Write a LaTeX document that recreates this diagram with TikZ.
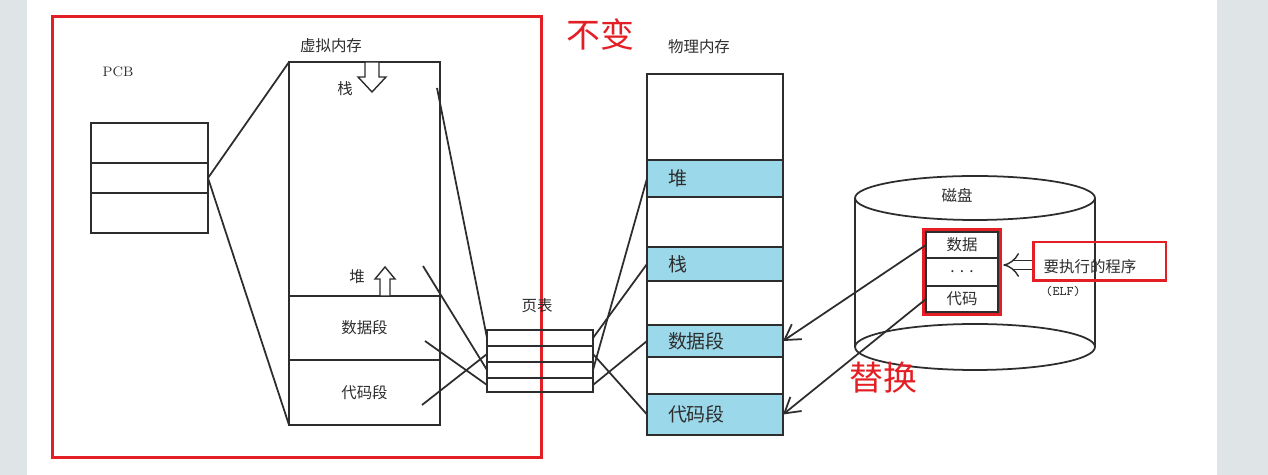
\documentclass[tikz,border=0pt]{standalone}
\usepackage{fontspec}
\newfontfamily\cjk{Noto Sans CJK SC}
\usepackage{tikz}
\usetikzlibrary{arrows.meta,positioning,fit}
\definecolor{memblue}{RGB}{155,216,233}
\definecolor{markred}{RGB}{227,30,36}
\definecolor{sidegray}{RGB}{223,229,230}
\definecolor{ink}{RGB}{45,45,45}

\begin{document}
\begin{tikzpicture}[
  x=0.02cm, y=-0.02cm,
  cell/.style={draw=ink, line width=1pt, inner sep=0pt, outer sep=0pt,
               text=ink, font=\cjk\fontsize{8.8}{10}\selectfont},
  band/.style={cell, fill=memblue, minimum width=2.72cm, inner xsep=0.42cm,
               text width=1.88cm, align=left, font=\cjk\fontsize{10.8}{12}\selectfont},
  title/.style={text=ink, font=\cjk\fontsize{8.8}{10}\selectfont},
  remark/.style={text=markred, font=\cjk\fontsize{19.3}{22}\selectfont},
  redbox/.style={draw=markred, line width=1.7pt, inner sep=0pt},
  link/.style={draw=ink, line width=1pt},
  hollow/.style={draw=ink, line width=0.8pt, fill=white},
  load/.style={link, -{Straight Barb[length=3mm, width=3.6mm]}},
  every edge/.style={link}
]
\useasboundingbox (0,0) rectangle (1268,475);
\fill[white] (0,0) rectangle (1268,475);
\fill[sidegray] (0,0) rectangle (27,475);
\fill[sidegray] (1217,0) rectangle (1268,475);

% PCB and virtual memory
\node[font=\fontsize{7.8}{9}\selectfont, text=ink] (pcb-title) at (118,72) {PCB};
\node[cell, minimum width=2.34cm, minimum height=2.2cm] (pcb) at (149.5,178) {};
\draw[link] (91,163) -- (208,163) (91,193) -- (208,193);

\node[title] (vm-title) at (331,46) {虚拟内存};
\node[cell, minimum width=3.02cm, minimum height=7.26cm] (vm) at (364.5,243.5) {};
\node[cell, minimum width=3.02cm, minimum height=1.28cm] (vm-data) at (364.5,328) {数据段};
\node[cell, minimum width=3.02cm, minimum height=1.3cm] (vm-code) at (364.5,392.5) {代码段};
\node[title] (vm-stack) at (345,89) {栈};
\node[title] (vm-heap) at (357,277) {堆};
\draw[hollow] (365,62) -- (365,77) -- (358,77) -- (372,92) -- (386,77) -- (379,77) -- (379,62) -- cycle;
\draw[hollow] (380,296) -- (380,279) -- (375,279) -- (385,267) -- (395,279) -- (390,279) -- (390,296) -- cycle;

\node[redbox, minimum width=9.8cm, minimum height=8.84cm] (fixed) at (297,237) {};
\node[remark] (fixed-note) at (600,35) {不变};

% page table
\node[title] (pt-title) at (537,306) {页表};
\node[cell, minimum width=2.12cm, minimum height=0.32cm] (pt1) at (540,338) {};
\node[cell, minimum width=2.12cm, minimum height=0.32cm, below=0pt of pt1] (pt2) {};
\node[cell, minimum width=2.12cm, minimum height=0.32cm, below=0pt of pt2] (pt3) {};
\node[cell, minimum width=2.12cm, minimum height=0.28cm, below=0pt of pt3] (pt4) {};

% physical memory
\node[title] (pm-title) at (699,47) {物理内存};
\node[cell, minimum width=2.72cm, minimum height=7.22cm] (pm) at (715,254.5) {};
\node[band, minimum height=0.74cm] (pm-heap) at (715,178.5) {堆};
\node[band, minimum height=0.68cm] (pm-stack) at (715,264) {栈};
\node[band, minimum height=0.64cm] (pm-data) at (715,341) {数据段};
\node[band, minimum height=0.82cm] (pm-code) at (715,414.5) {代码段};

% disk
\draw[link] (975,198) ellipse [x radius=2.4cm, y radius=0.44cm];
\draw[link] (975,347) ellipse [x radius=2.4cm, y radius=0.46cm];
\draw[link] (855,198) -- (855,347) (1095,198) -- (1095,347);
\node[title] (disk) at (957,195) {磁盘};
\node[cell, minimum width=1.44cm, minimum height=0.52cm] (elf-data) at (962,245) {数据};
\node[cell, minimum width=1.44cm, minimum height=0.56cm, below=0pt of elf-data] (elf-dots) {.\hspace{3pt}.\hspace{3pt}.\hspace{8pt}};
\node[cell, minimum width=1.44cm, minimum height=0.52cm, below=0pt of elf-dots] (elf-code) {代码};
\node[redbox, fit=(elf-data)(elf-code), inner sep=1.5pt] (elf-mark) {};

\node[redbox, minimum width=2.66cm, minimum height=0.78cm] (elf-box) at (1099.5,261.5) {};
\node[title] (elf-name) at (1090,267) {要执行的程序};
\node[font=\ttfamily\fontsize{7.5}{9}\selectfont, text=ink] (elf-kind) at (1063,291) {(ELF)};
\draw[ink, line width=0.8pt, double=white, double distance=4pt, -{Implies}, shorten >=3pt]
  (elf-box.west |- 0,265) -- (elf-dots.east |- 0,265);

\node[remark] (swap-note) at (883,378) {替换};

% mappings
\coordinate (vm-s) at (437,88);
\coordinate (vm-h) at (423,266);
\coordinate (vm-d) at (425,341);
\coordinate (vm-c) at (422,405);
\path (pcb.east) edge (vm.north west)
      (pcb.east) edge (vm.south west)
      (vm-s) edge (pt1.west)
      (vm-h) edge (pt3.west)
      (vm-d) edge (pt4.west)
      (vm-c) edge (pt2.west)
      (pt1.east) edge (pm-stack.west)
      (pt3.east) edge (pm-heap.west)
      (pt4.east) edge (pm-data.west)
      (pt2.east) edge (pm-code.west);
\draw[load] (elf-data.west) -- (pm-data.east);
\draw[load] (elf-code.west) -- (pm-code.east);
\end{tikzpicture}
\end{document}
